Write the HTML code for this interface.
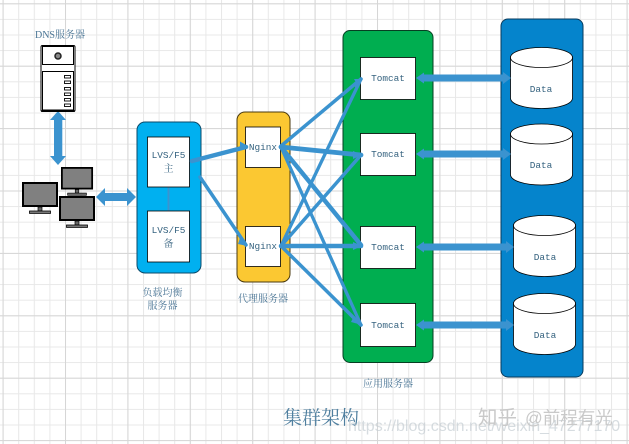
<!DOCTYPE html>
<html>
<head>
<meta charset="utf-8">
<style>
html,body{margin:0;padding:0;background:#fff;width:629px;height:444px;overflow:hidden}
svg{display:block}
.m{font-family:"Liberation Mono",monospace;font-size:9.4px;fill:#35627f;text-anchor:middle}
.c{font-family:"Liberation Serif","Noto Serif CJK SC",serif;font-size:10px;fill:#4a7595;text-anchor:middle}
</style>
</head>
<body>
<svg width="629" height="444" viewBox="0 0 629 444" xmlns="http://www.w3.org/2000/svg">
<defs>
<pattern id="g" x="2.6" y="3.3" width="15.6" height="15.6" patternUnits="userSpaceOnUse">
<path d="M0.5 0V15.6M0 0.5H15.6" stroke="#e8e8e8" stroke-width="1" fill="none"/>
</pattern>
<pattern id="G" x="2.6" y="3.3" width="62.4" height="62.4" patternUnits="userSpaceOnUse">
<path d="M0.5 0V62.4M0 0.5H62.4" stroke="#d6d6d6" stroke-width="1" fill="none"/>
</pattern>
<g id="mon">
<rect x="1" y="1" width="34" height="23" fill="#808080" stroke="#000" stroke-width="2"/>
<rect x="16" y="25" width="4" height="4" fill="#666" stroke="#000" stroke-width="0.7"/>
<rect x="7.5" y="29" width="21" height="2.4" fill="#777" stroke="#000" stroke-width="0.8"/>
</g>
<g id="cyl">
<path d="M0.5 10V51C0.5 57 14 61.5 31.5 61.5S62.5 57 62.5 51V10Z" fill="#fff" stroke="#000" stroke-width="0.8"/>
<ellipse cx="31.5" cy="10.5" rx="31" ry="10" fill="#fff" stroke="#000" stroke-width="0.8"/>
</g>
</defs>
<rect width="629" height="444" fill="#fff"/>
<rect width="629" height="444" fill="url(#g)"/>
<rect width="629" height="444" fill="url(#G)"/>

<!-- containers -->
<rect x="137" y="122" width="64" height="151" rx="8" fill="#00b0f0" stroke="#0b4a6a" stroke-width="1"/>
<rect x="237" y="112" width="53" height="170" rx="8" fill="#fbc832" stroke="#4a3a10" stroke-width="1"/>
<rect x="343" y="30.500" width="90" height="332" rx="7" fill="#00ae50" stroke="#063f22" stroke-width="1"/>
<rect x="501" y="19" width="82" height="358" rx="7" fill="#0584cc" stroke="#073a5c" stroke-width="1"/>

<!-- LVS connector -->
<path d="M168.500 187V211" stroke="#3b93cf" stroke-width="2"/>

<!-- white boxes -->
<g fill="#fff" stroke="#000" stroke-width="0.8">
<rect x="147.500" y="137" width="42" height="50"/>
<rect x="147.500" y="211" width="42" height="51"/>
<rect x="245.500" y="127" width="35" height="40.500"/>
<rect x="245.500" y="226.500" width="35" height="40"/>
<rect x="360.500" y="57.500" width="55" height="42"/>
<rect x="360.500" y="133.500" width="55" height="42"/>
<rect x="360.500" y="226.500" width="55" height="42"/>
<rect x="360.500" y="303.500" width="55" height="43"/>
</g>

<!-- cylinders -->
<use href="#cyl" x="510" y="47"/>
<use href="#cyl" x="510" y="123.500"/>
<use href="#cyl" x="513" y="215"/>
<use href="#cyl" x="513" y="293"/>

<!-- connectors -->
<g stroke="#3b93cf" fill="none" stroke-linecap="round">
<path d="M192 161L246 147" stroke-width="4.500"/>
<path d="M200 177L246 245" stroke-width="3.500"/>
<path d="M281 146L361 79" stroke-width="3.500"/>
<path d="M281 147L361 155" stroke-width="4.800"/>
<path d="M281 147L361 245" stroke-width="4.500"/>
<path d="M281 147L361 325" stroke-width="3.300"/>
<path d="M281 246L361 79" stroke-width="3.300"/>
<path d="M281 246L361 155" stroke-width="3.500"/>
<path d="M281 246L361 246" stroke-width="4.500"/>
<path d="M281 246L361 325" stroke-width="3.500"/>
</g>
<g fill="#3b93cf">
<path d="M248 146L240 141.500V150Z"/>
<path d="M247 246L240 238L238 244Z"/>
<path d="M362 79L354 79L358 86Z"/>
<path d="M362 79L353 84L357 90Z"/>
<path d="M362 155L353 151V159Z"/>
<path d="M362 246L353 242V250Z"/>
<path d="M362 325L354 316L351 322Z"/>
</g>

<!-- thick double arrows -->
<g fill="#3b93cf">
<path d="M58 111L66 120H62.300V156H66L58 165L50 156H54V120H50Z"/>
<path d="M96 197L105 188V193H127V188L136 197L127 206V201H105V206Z"/>
<path d="M416 78L424 72.500V74.500H503V72L511 78L503 84V81.500H424V83.500Z"/>
<path d="M416 154L424 148.500V150.500H503V148L511 154L503 160V157.500H424V159.500Z"/>
<path d="M416 247L424 241.500V243.500H506V241L514 247L506 253V250.500H424V252.500Z"/>
<path d="M416 325L424 319.500V321.500H506V319L514 325L506 331V328.500H424V330.500Z"/>
</g>

<!-- server -->
<rect x="41" y="45.500" width="34" height="66" rx="1.500" fill="#fff" stroke="#000" stroke-width="1"/>
<rect x="42.500" y="46.500" width="31" height="18" fill="#fff" stroke="#000" stroke-width="1"/>
<rect x="42.500" y="71.500" width="31" height="38.500" fill="#fff" stroke="#000" stroke-width="1"/>
<circle cx="58" cy="56" r="3" fill="#888" stroke="#222" stroke-width="1.500"/>
<g fill="#fff" stroke="#000" stroke-width="0.900">
<rect x="64.500" y="75.500" width="6" height="2.500"/>
<rect x="64.500" y="81" width="6" height="2.500"/>
<rect x="64.500" y="87.500" width="6" height="2.500"/>
<rect x="64.500" y="93" width="6" height="2.500"/>
<rect x="64.500" y="98.500" width="6" height="2.500"/>
<rect x="64.500" y="104" width="6" height="2.500"/>
</g>
<path d="M41 111H75" stroke="#000" stroke-width="1.500"/>

<!-- monitors -->
<use href="#mon" x="22" y="182"/>
<use href="#mon" transform="translate(61 167) scale(0.89 0.9)"/>
<use href="#mon" x="59" y="196"/>

<!-- labels -->
<text class="c" x="60" y="38">DNS服务器</text>
<text class="m" x="168.500" y="158">LVS/F5</text>
<text class="c" x="168.500" y="172" style="fill:#35627f">主</text>
<text class="m" x="168.500" y="233">LVS/F5</text>
<text class="c" x="168.500" y="247" style="fill:#35627f">备</text>
<text class="m" x="263" y="150">Nginx</text>
<text class="m" x="263" y="249">Nginx</text>
<text class="m" x="388" y="81">Tomcat</text>
<text class="m" x="388" y="157">Tomcat</text>
<text class="m" x="388" y="250">Tomcat</text>
<text class="m" x="388" y="328">Tomcat</text>
<text class="m" x="541" y="92">Data</text>
<text class="m" x="541" y="168">Data</text>
<text class="m" x="545" y="260">Data</text>
<text class="m" x="545" y="338">Data</text>
<text class="c" x="162.500" y="296">负载均衡</text>
<text class="c" x="162.500" y="309">服务器</text>
<text class="c" x="263" y="302">代理服务器</text>
<text class="c" x="388" y="387">应用服务器</text>
<text x="321" y="424" text-anchor="middle" style="font-family:'Liberation Serif','Noto Serif CJK SC',serif;font-size:19px;fill:#4f7f9f">集群架构</text>

<!-- watermarks -->
<text x="348" y="431" style="font-family:'Liberation Sans',sans-serif;font-size:16px;fill:#c6ced4;opacity:.7">https://blog.csdn.net/weixin_47277170</text>
<text x="478" y="424" style="font-family:'Liberation Sans','Noto Sans CJK SC',sans-serif;font-size:19.500px;fill:#c9c9c9">知乎</text>
<text x="525" y="424" style="font-family:'Liberation Sans','Noto Sans CJK SC',sans-serif;font-size:17.500px;fill:#c9c9c9">@前程有光</text>
</svg>
</body>
</html>
